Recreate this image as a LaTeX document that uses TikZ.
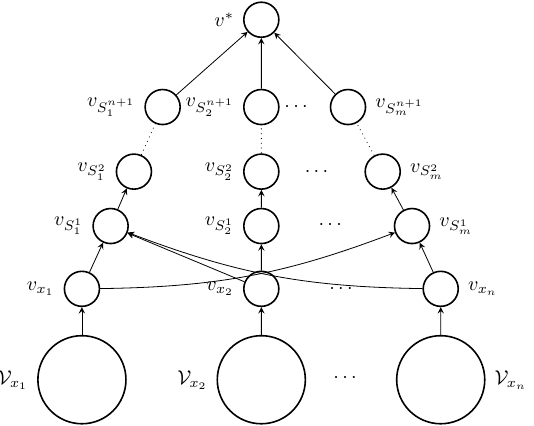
\documentclass[tikz,border=0pt]{standalone}
\usepackage{amsmath}
\usepackage{amssymb}
\usepackage{tikz}
\usetikzlibrary{arrows}

\begin{document}
\begin{tikzpicture}[scale=1.05, >=stealth, label distance=1pt]
  \useasboundingbox (-1.37,-2.29) rectangle (7.56,4.83);
  \begin{scope}[vtx/.style={circle, draw, line width=0.8pt, minimum size=17.5pt, inner sep=0}, big/.style={vtx, minimum size=44pt}]
    \node [vtx, label=left:$v^*$] (T) at (3,4.5) {};
    \node [vtx, label=left:$v_{S_1^{n+1}}$] (A3) at (1.35,3.04) {};
    \node [vtx, label=left:$v_{S_2^{n+1}}$] (B3) at (3,3.04) {};
    \node [vtx, label=right:$v_{S_m^{n+1}}$] (C3) at (4.45,3.04) {};
    \node [vtx, label=left:$v_{S_1^2}$] (A2) at (0.87,1.96) {};
    \node [vtx, label=left:$v_{S_2^2}$] (B2) at (3,1.96) {};
    \node [vtx, label=right:$v_{S_m^2}$] (C2) at (5.03,1.96) {};
    \node [vtx, label=left:$v_{S_1^1}$] (A1) at (0.48,1.05) {};
    \node [vtx, label=left:$v_{S_2^1}$] (B1) at (3,1.05) {};
    \node [vtx, label=right:$v_{S_m^1}$] (C1) at (5.52,1.05) {};
    \node [vtx, label=left:$v_{x_1}$] (X1) at (0,0) {};
    \node [vtx, label=left:$v_{x_2}$] (X2) at (3,0) {};
    \node [vtx, label=right:$v_{x_n}$] (Xn) at (6,0) {};
    \node [big, label=left:$\mathcal{V}_{x_1}$] (V1) at (0,-1.52) {};
    \node [big, label=left:$\mathcal{V}_{x_2}$] (V2) at (3,-1.52) {};
    \node [big, label=right:$\mathcal{V}_{x_n}$] (Vn) at (6,-1.52) {};
  \end{scope}
  \node (D3) at (3.61,3.04) {$\cdots$};
  \node (D2) at (3.95,1.96) {$\cdots$};
  \node (D1) at (4.18,1.07) {$\cdots$};
  \node (DX) at (4.36,0) {$\cdots$};
  \node (DV) at (4.43,-1.49) {$\cdots$};
  \foreach \a/\b in {V1/X1, V2/X2, Vn/Xn, X1/A1, X2/B1, Xn/C1, X2/A1, A1/A2, B1/B2, C1/C2, A3/T, B3/T, C3/T} {\draw [->] (\a) -- (\b);}
  \foreach \c in {A,B,C} {\draw [dotted] (\c2) -- (\c3);}
  \draw [->] (X1) to [bend right=10] (C1);
  \draw [->] (Xn) to [bend left=10] (A1);
\end{tikzpicture}
\end{document}
